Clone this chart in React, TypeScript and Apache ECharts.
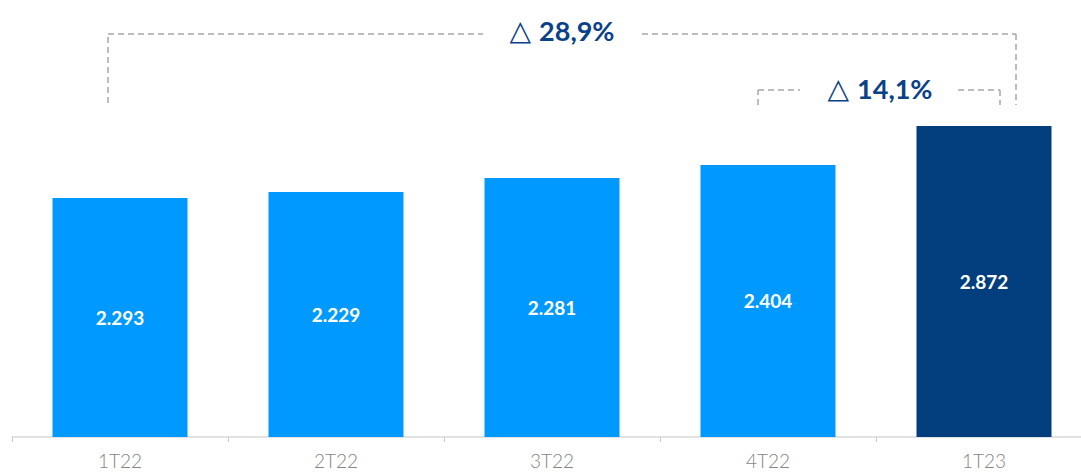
import React, { useEffect, useRef } from "react";
import * as echarts from "echarts";

const categories = ["1T22", "2T22", "3T22", "4T22", "1T23"];
// bar heights as drawn in the picture (relative to 1T23 = 2.872)
const barValues = [2.207, 2.262, 2.392, 2.512, 2.872];
// printed labels inside the bars
const labelValues = ["2.293", "2.229", "2.281", "2.404", "2.872"];
const barColors = ["#0099FF", "#0099FF", "#0099FF", "#0099FF", "#023E7D"];
const growthLabels = ["28,9%", "14,1%"];

export default function App() {
  const ref = useRef<HTMLDivElement>(null);
  useEffect(() => {
    if (!ref.current) return;
    const chart = echarts.init(ref.current, null, { renderer: "svg" });
    const dash = { stroke: "#a8a8a8", lineWidth: 1.5, lineDash: [6, 4] };
    const seg = (x1: number, y1: number, x2: number, y2: number) => ({
      type: "line",
      shape: { x1, y1, x2, y2 },
      style: dash,
      silent: true,
    });
    const rich = {
      t: {
        fontSize: 28,
        fontWeight: "normal",
        fill: "#0B4187",
        fontFamily: "DejaVu Sans",
        padding: [0, 8, 0, 0],
      },
      v: { fontSize: 27, fontWeight: "bold", fill: "#0B4187", fontFamily: "Lato" },
    };
    chart.setOption({
      animation: false,
      grid: { left: 12, right: 8, top: 126, bottom: 36, containLabel: false },
      xAxis: {
        type: "category",
        data: categories,
        axisLine: { lineStyle: { color: "#d9d9d9", width: 1.5 } },
        axisTick: { show: true, length: 5, lineStyle: { color: "#cfcfcf" } },
        axisLabel: {
          color: "#858585",
          fontSize: 19,
          lineHeight: 19,
          fontFamily: "Lato",
          fontWeight: 300,
          margin: 14,
        },
      },
      yAxis: { type: "value", min: 0, max: 2.872, show: false, splitLine: { show: false } },
      series: [
        {
          type: "bar",
          barCategoryGap: "37.5%",
          data: barValues.map((v, i) => ({ value: v, itemStyle: { color: barColors[i] } })),
          label: {
            show: true,
            position: "inside",
            color: "#ffffff",
            fontSize: 19,
            fontWeight: "bold",
            fontFamily: "Lato",
            formatter: (p: any) => labelValues[p.dataIndex],
          },
        },
      ],
      graphic: [
        seg(108, 103, 108, 34),
        seg(108, 34, 483, 34),
        seg(642, 34, 1016, 34),
        seg(1016, 34, 1016, 105),
        seg(758, 105, 758, 90),
        seg(758, 90, 800, 90),
        seg(958, 90, 1000, 90),
        seg(1000, 90, 1000, 105),
        {
          type: "text",
          x: 562,
          y: 30,
          style: {
            text: "{t|△}{v|" + growthLabels[0] + "}",
            rich,
            fill: "#0B4187",
            align: "center",
            verticalAlign: "middle",
          },
        },
        {
          type: "text",
          x: 880,
          y: 88,
          style: {
            text: "{t|△}{v|" + growthLabels[1] + "}",
            rich,
            fill: "#0B4187",
            align: "center",
            verticalAlign: "middle",
          },
        },
      ],
    });
    return () => chart.dispose();
  }, []);
  return (
    <div
      style={{ position: "fixed", left: 0, top: 0, width: 1081, height: 473, overflow: "hidden", background: "#fff" }}
    >
      <div ref={ref} style={{ width: 1100, height: 473 }} />
    </div>
  );
}
